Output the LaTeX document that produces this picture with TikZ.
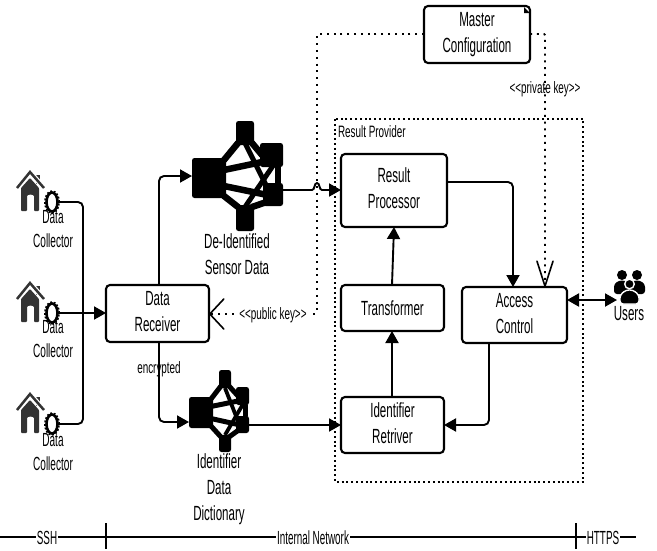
\documentclass[tikz,border=0pt]{standalone}
\usepackage{fontspec}
\setmainfont[FakeStretch=0.565]{Liberation Sans}
\newfontfamily\collf[FakeStretch=0.53]{Liberation Sans}
\newfontfamily\smallf[FakeStretch=0.6]{Liberation Sans}
\newfontfamily\bandf[FakeStretch=0.52]{Liberation Sans}
\usetikzlibrary{arrows.meta,calc,shapes.geometric}
\definecolor{housec}{HTML}{333333}
\newcommand{\tl}[2][0pt]{\raisebox{#1}{\begin{tabular}{@{}c@{}}#2\end{tabular}}}
\newcommand{\bx}[6][blk]{\pgfmathsetmacro{\cxx}{(#3+#5)/2}\pgfmathsetmacro{\cyy}{(#4+#6)/2}\pgfmathsetmacro{\wxx}{#5-#3}\pgfmathsetmacro{\hyy}{#6-#4}\node[#1,minimum width=\wxx pt,minimum height=\hyy pt] (#2) at (\cxx,\cyy) {};}
\newcommand{\bxt}[7][procbox]{\pgfmathsetmacro{\cxx}{(#3+#5)/2}\pgfmathsetmacro{\cyy}{(#4+#6)/2}\pgfmathsetmacro{\wxx}{#5-#3}\pgfmathsetmacro{\hyy}{#6-#4}\node[#1,minimum width=\wxx pt,minimum height=\hyy pt] (#2) at (\cxx,\cyy) {#7};}
\newcommand{\housegear}[2]{%
 \begin{scope}[shift={(#1,#2)}]
 \fill[housec] (19,5) rectangle (23,14);
 \draw[white,line width=5pt] (0,18) -- (13,2) -- (27,18);
 \fill[housec,rounded corners=0.8pt] (4,18) -- (13,8) -- (22,18) -- (22,41) -- (17,41) -- (17,27) .. controls (17,24) and (10,24) .. (10,27) -- (10,41) -- (4,41) -- cycle;
 \draw[housec,line width=2.5pt] (0,18) -- (13,2) -- (27,18);
 \end{scope}}
\tikzset{
 procbox/.style={draw=black,line width=2.1pt,rounded corners=4pt,fill=white,inner sep=0pt,outer sep=0pt,align=center},
 blk/.style={fill=black,rounded corners=2.5pt,inner sep=0pt,outer sep=0pt},
 gearn/.style={ellipse,draw=black,line width=2.6pt,fill=white,minimum width=11pt,minimum height=19pt,inner sep=0pt,outer sep=0pt},
 link/.style={line width=6.5pt,line cap=round},
 linkb/.style={line width=5pt,line cap=round},
 conn/.style={line width=1.9pt,rounded corners=5pt},
 tipf/.style={-{Triangle[length=12pt,width=13pt]}},
 txt/.style={inner sep=0pt,outer sep=0pt,align=center},
 smalltxt/.style={txt,font=\smallf\fontsize{16.5}{18}\selectfont},
 colltxt/.style={txt,font=\collf\fontsize{19}{23.5}\selectfont},
 bandtxt/.style={txt,fill=white,inner xsep=1pt,font=\bandf\fontsize{19}{21}\selectfont},
 dots/.style={line width=1.9pt,dash pattern=on 2pt off 4.8pt,rounded corners=1pt},
 dotbox/.style={line width=1.9pt,dash pattern=on 2pt off 2.8pt},
 openh/.style={-{Straight Barb[length=14pt,width=30pt,line width=1.6pt,round=false]}},
 openv/.style={-{Straight Barb[length=25pt,width=16pt,line width=1.6pt,round=false]}},
 band/.style={line width=2.4pt},
}
\begin{document}
\begin{tikzpicture}[x=1pt,y=-1pt,font=\fontsize{20.5}{26}\selectfont]
\useasboundingbox (0,0) rectangle (657,550);
\fill[white] (0,0) rectangle (657,550);

% result provider group
\draw[dotbox] (335,119) rectangle (583,482);
\node[smalltxt,anchor=west] (rplabel) at (338,132) {Result Provider};

% boxes
\bxt{dr}{106}{285}{209}{342}{\tl[5pt]{Data\\Receiver}}
\bxt{rp}{341}{154}{447}{227}{\tl[3pt]{Result\\Processor}}
\bxt{tf}{341}{285}{444}{331}{Transformer}
\bxt{ac}{462}{287}{567}{343}{\tl[6pt]{Access\\Control}}
\bxt{ir}{341}{397}{444}{453}{\tl[6pt]{Identifier\\Retriver}}
\bxt{mc}{424}{6}{530}{63}{\tl[-1pt]{Master\\Configuration}}
\fill[black] (524,7) -- (530,13) -- (524,13) -- cycle;

% house + gear collectors
\housegear{17}{170}
\housegear{17}{281}
\housegear{17}{392}
\foreach \n/\y in {g1/202,g2/313,g3/424}{
 \draw[line width=1.6pt,dash pattern=on 1.8pt off 1.8pt] (52,\y) ellipse (7.2pt and 11pt);
 \node[gearn] (\n) at (52,\y) {};
}
\node[colltxt] (c1l) at (53,231) {\tl{Data\\Collector}};
\node[colltxt] (c2l) at (53,341) {\tl{Data\\Collector}};
\node[colltxt] (c3l) at (53,454) {\tl{Data\\Collector}};

% collector wiring
\draw[conn] (g1.east) -- (83,202) -- (83,424) -- (g3.east);
\draw[conn,tipf] (g2.east) -- (dr.west |- g2);

% de-identified icon
\bx{ba}{192}{158}{226}{198}
\bx{ta}{236}{121}{254}{145}
\bx{ra}{260}{143}{283}{167}
\bx{sa}{263}{183}{283}{206}
\bx{ua}{236}{205}{254}{231}
\draw[link] ($(ba.north east)+(-2,2)$) -- ($(ta.south west)+(2,-2)$);
\draw[link] ($(ba.south east)+(-2,-2)$) -- ($(ua.north west)+(2,2)$);
\draw[link] ($(ba.east)+(-2,-8)$) -- ($(ra.south west)+(2,-5)$);
\draw[link] ($(ba.east)+(-2,8)$) -- ($(sa.west)+(2,0)$);
\draw[link] ($(ta.south east)+(-2,-2)$) -- ($(ra.west)+(2,0)$);
\draw[link] ($(ua.north east)+(-2,2)$) -- ($(sa.west)+(2,8)$);
\draw[linkb] ($(ta.south)+(0,-2)$) -- ($(sa.north west)+(3,2)$);
\draw[linkb] ($(ua.north)+(0,2)$) -- ($(ra.south)+(2,-2)$);
\draw[link] ($(ra.south east)+(-5,0)$) -- ($(sa.north east)+(-5,0)$);
\node[txt] (dil) at (237,256) {\tl{De-Identified\\Sensor Data}};

% identifier icon
\bx{bb}{189}{397}{213}{428}
\bx{tb}{219}{370}{231}{388}
\bx{rb}{236}{387}{249}{405}
\bx{sb}{236}{416}{249}{433}
\bx{ub}{219}{435}{231}{452}
\draw[linkb] ($(bb.north east)+(-2,2)$) -- ($(tb.south west)+(2,-2)$);
\draw[linkb] ($(bb.south east)+(-2,-2)$) -- ($(ub.north west)+(2,2)$);
\draw[linkb] ($(bb.east)+(-2,-6)$) -- ($(rb.south west)+(2,-4)$);
\draw[linkb] ($(bb.east)+(-2,6)$) -- ($(sb.west)+(2,0)$);
\draw[linkb] ($(tb.south east)+(-2,-2)$) -- ($(rb.west)+(2,0)$);
\draw[linkb] ($(ub.north east)+(-2,2)$) -- ($(sb.west)+(2,6)$);
\draw[line width=3.8pt] (tb.south) -- (sb.north west);
\draw[line width=3.8pt] (ub.north) -- (rb.south);
\draw[linkb] ($(rb.south east)+(-4,0)$) -- ($(sb.north east)+(-4,0)$);
\node[txt] (idl) at (219,489) {\tl{Identifier\\Data\\Dictionary}};

% data flows
\coordinate (dru) at (159,285);
\coordinate (drd) at (159,342);
\draw[conn,tipf] (dru) -- (159,176) -- (ba.west |- 0,176);
\draw[conn,tipf] (drd) -- (159,422) -- (bb.west |- 0,422);
\node[smalltxt] (enc) at (159,369) {encrypted};
\draw[conn,tipf,rounded corners=0pt] (sa.east |- 0,190) -- (312,190) .. controls (315,190) and (314,183) .. (317,183) .. controls (320,183) and (319,190) .. (322,190) -- (rp.west |- 0,190);
\draw[conn,tipf] (sb.east |- 0,425) -- (ir.west |- 0,425);
\coordinate (rpo) at (447,182);
\draw[conn,tipf] (rpo) -- (513,182) -- (513,287);
\coordinate (tfu) at (392,285);
\draw[conn,tipf] (tfu) -- (394,227);
\draw[conn,tipf] (392,397) -- (392,331);
\coordinate (acd) at (489,343);
\draw[conn,tipf] (acd) -- (489,425) -- (ir.east |- 0,425);

% dotted key lines
\draw[dots,openh] (mc.west |- 0,34) -- (317,34) -- (317,314) -- (dr.east |- 0,314);
\node[smalltxt,fill=white,inner xsep=2pt] (pub) at (273,315) {<{}<public key>{}>};
\draw[dots,openv] (mc.east |- 0,34) -- (545,34) -- (545,287);
\node[smalltxt] (prv) at (545,89) {<{}<private key>{}>};

% users
\foreach \x in {622,637}{
 \fill[black] (\x,275) circle (5pt);
 \fill[black,rounded corners=3pt] (\x-8,294) -- (\x-8,284) -- (\x-3,280.5) -- (\x+3,280.5) -- (\x+8,284) -- (\x+8,294) -- cycle;
}
\draw[white,line width=1.4pt,fill=black] (629.5,284) circle (4.8pt);
\draw[white,line width=1.4pt,fill=black,rounded corners=3pt] (620,304) -- (620,295) -- (626,290) -- (633,290) -- (639,295) -- (639,304) -- cycle;
\node[txt] (ul) at (629,314) {Users};
\coordinate (uw) at (617,300);
\draw[line width=2pt,{Triangle[length=12pt,width=13pt]}-{Triangle[length=12pt,width=13pt]}] (ac.east |- uw) -- (uw);

% network band
\coordinate (b0) at (0,537);
\coordinate (b1) at (636,537);
\draw[band] (b0) -- (b1);
\coordinate (t1a) at (106,523); \coordinate (t1b) at (106,549);
\coordinate (t2a) at (576,523); \coordinate (t2b) at (576,549);
\draw[line width=1.4pt] (t1a) -- (t1b);
\draw[line width=1.4pt] (t2a) -- (t2b);
\node[bandtxt] (ssh) at (47,538) {SSH};
\node[bandtxt] (net) at (313,538) {Internal Network};
\node[bandtxt] (htt) at (603,538) {HTTPS};
\end{tikzpicture}
\end{document}
